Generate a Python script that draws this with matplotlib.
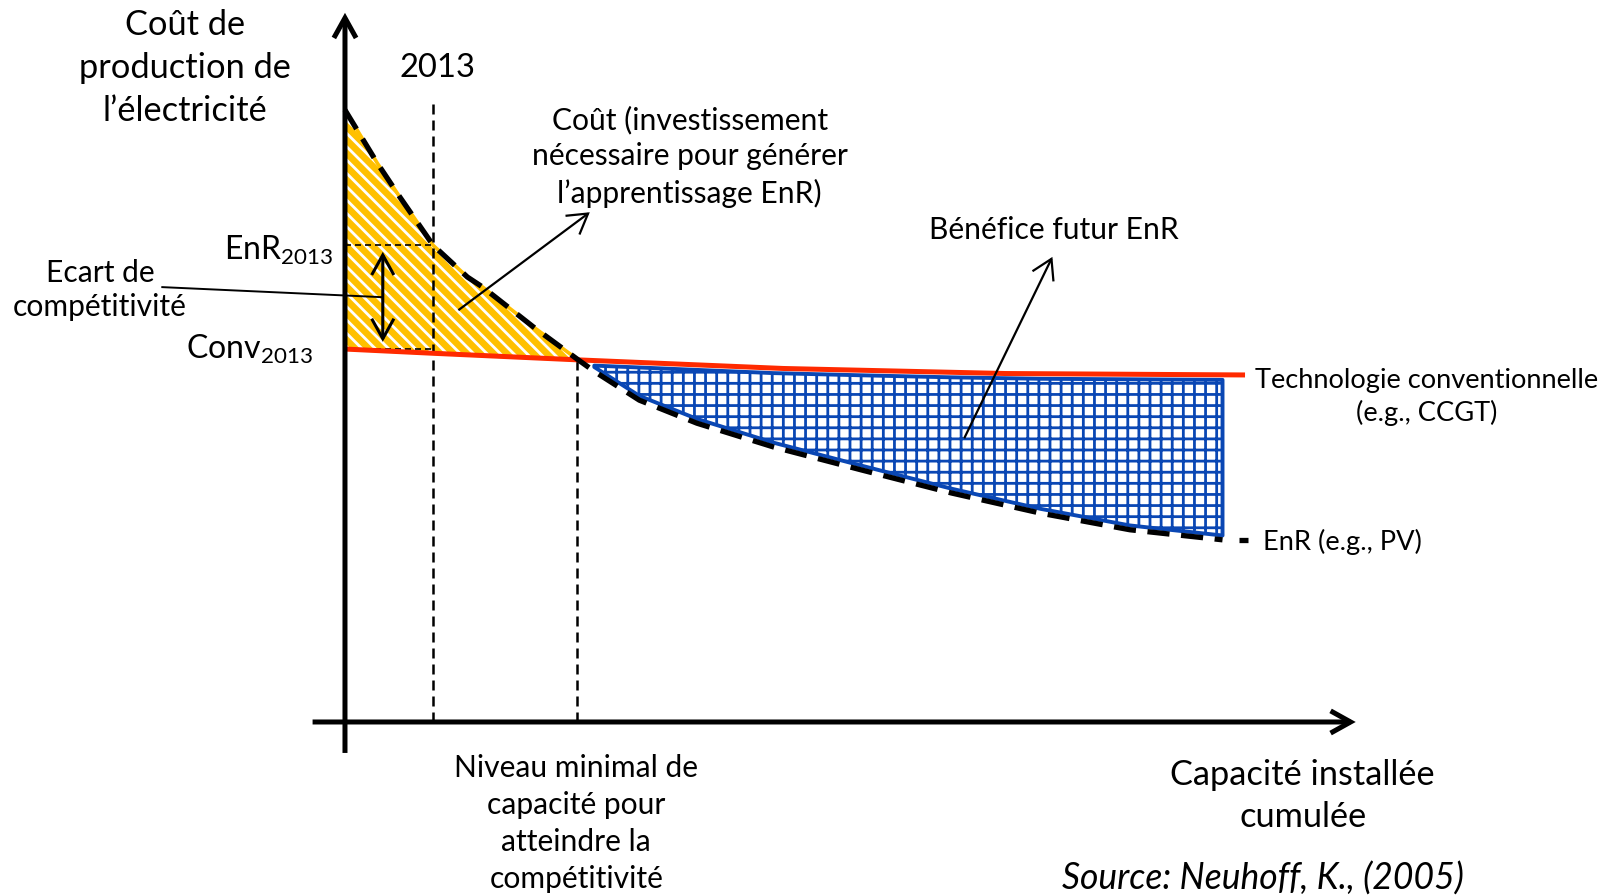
import numpy as np
import matplotlib
matplotlib.use('Agg')
import matplotlib.pyplot as plt
from matplotlib.patches import FancyArrowPatch

plt.rcParams['font.family'] = ['Lato', 'DejaVu Sans']
plt.rcParams['mathtext.fontset'] = 'custom'
plt.rcParams['mathtext.rm'] = 'Lato'
plt.rcParams['mathtext.it'] = 'Lato:italic'
plt.rcParams['hatch.linewidth'] = 1.0

# Learning curve of the renewable (EnR) cost
enr_x = [0, 3.6, 6.1, 9.8, 13.6, 15.3, 20.9, 25.8, 27.7, 32.7, 39.1, 47.6,
         57.4, 67.4, 77.3, 87.2, 97.5]
enr_y = [85, 77.6, 72.9, 66.2, 61.8, 60.4, 54.9, 50.4, 48.7, 44.7, 41.5, 38.2,
         35.0, 31.8, 29.0, 26.7, 25.3]

# Conventional technology cost (red line)
conv_x = [0, 10, 25.8, 48.7, 73.4, 100]
conv_y = [51.8, 51.2, 50.3, 49.1, 48.4, 48.2]

x_2013 = 9.8
x_breakeven = 25.8

BLUE = '#0A47B4'
RED = '#FF2A00'
YELLOW = '#FFC000'

enr_x = np.array(enr_x)
enr_y = np.array(enr_y)

dpi = 200
fig = plt.figure(figsize=(1609 / dpi, 896 / dpi), dpi=dpi)
ax = fig.add_axes([0, 0, 1, 1])
ax.set_xlim(-38.33, 140.44)
ax.set_ylim(-24.17, 100.28)
ax.axis('off')

# yellow area: cost of learning
m = enr_x <= x_breakeven
xs = enr_x[m]
ax.fill_between(xs, np.interp(xs, conv_x, conv_y), enr_y[m], facecolor=YELLOW,
                edgecolor='white', hatch='\\' * 5, linewidth=0, zorder=1)
ax.fill_between(xs, np.interp(xs, conv_x, conv_y), enr_y[m], facecolor='none',
                edgecolor=YELLOW, linewidth=1.3, zorder=1.1)

# blue area: future benefit
m = enr_x >= 27.7
xb = enr_x[m]
ax.fill_between(xb, enr_y[m] + 0.6, np.interp(xb, conv_x, conv_y) - 0.7,
                facecolor='white', edgecolor=BLUE, hatch='+++', linewidth=1.4,
                zorder=1)

# vertical dashed guides
ax.plot([x_2013, x_2013], [0, 86.0], color='black', lw=0.9, dashes=(4, 2.4), zorder=2)
ax.plot([x_breakeven, x_breakeven], [0, 50.4], color='black', lw=0.9,
        dashes=(4, 2.4), zorder=2)
# horizontal dashed levels in 2013
enr_2013 = np.interp(x_2013, enr_x, enr_y)
conv_2013 = np.interp(0, conv_x, conv_y)
ax.plot([0, x_2013], [enr_2013, enr_2013], color='black', lw=0.6, dashes=(3.6, 2.4), zorder=2)
ax.plot([0, x_2013], [conv_2013, conv_2013], color='black', lw=0.6, dashes=(3.6, 2.4), zorder=2)

ax.plot(conv_x, conv_y, color=RED, lw=1.8, solid_capstyle='butt', zorder=3)
ax.plot(enr_x, enr_y, color='black', lw=1.9, dashes=(4.2, 2.2), zorder=4)
ax.plot([99.3, 100.3], [25.3, 25.3], color='black', lw=1.9, solid_capstyle='butt', zorder=4)

# axes arrows
def arrow(p0, p1, style, lw, scale):
    a = FancyArrowPatch(p0, p1, arrowstyle=style, mutation_scale=scale, lw=lw,
                        color='black', shrinkA=0, shrinkB=0, zorder=5,
                        capstyle='butt', joinstyle='miter')
    ax.add_patch(a)

arrow((0, -4.3), (0, 98.5), '->,head_length=0.36,head_width=0.2', 1.8, 20)
arrow((-3.6, 0), (112.3, 0), '->,head_length=0.36,head_width=0.2', 1.8, 20)
arrow((4.2, 52.8), (4.2, 65.3), '<->,head_length=0.36,head_width=0.2', 1.1, 20)
arrow((12.6, 57.2), (27.2, 70.8), '->,head_length=0.5,head_width=0.3', 0.8, 14)
arrow((68.8, 39.4), (78.6, 64.6), '->,head_length=0.5,head_width=0.3', 0.8, 14)
ax.plot([-20.3, 4.2], [60.4, 59.0], color='black', lw=0.7, zorder=5)

# texts
big = 12.4
mid = 10.8
small = 9.8
ax.text(-17.8, 90.8, "Coût de\nproduction de\nl’électricité", ha='center',
        va='center', fontsize=big, linespacing=1.42)
ax.text(10.3, 90.8, "2013", ha='center', va='center', fontsize=11.8)
ax.text(-1.3, 65.5, r"EnR$_\mathrm{2013}$", ha='right', va='center', fontsize=11.5)
ax.text(-3.6, 51.7, r"Conv$_\mathrm{2013}$", ha='right', va='center', fontsize=11.5)
ax.text(-27.2, 60.0, "Ecart de\ncompétitivité", ha='center', va='center',
        fontsize=mid, linespacing=1.3)
ax.text(38.3, 78.5, "Coût (investissement\nnécessaire pour générer\nl’apprentissage EnR)",
        ha='center', va='center', fontsize=mid, linespacing=1.34)
ax.text(78.8, 68.3, "Bénéfice futur EnR", ha='center', va='center', fontsize=mid)
ax.text(120.2, 45.1, "Technologie conventionnelle\n(e.g., CCGT)", ha='center',
        va='center', fontsize=small, linespacing=1.31)
ax.text(102.0, 25.0, "EnR (e.g., PV)", ha='left', va='center', fontsize=small)
ax.text(25.7, -14.1, "Niveau minimal de\ncapacité pour\natteindre la\ncompétitivité",
        ha='center', va='center', fontsize=mid, linespacing=1.39)
ax.text(106.4, -10.3, "Capacité installée\ncumulée", ha='center', va='center',
        fontsize=big, linespacing=1.37)
ax.text(102.0, -21.7, "Source: Neuhoff, K., (2005)", ha='center', va='center',
        fontsize=12.8, style='italic')

fig.savefig('out.png', dpi=dpi)
